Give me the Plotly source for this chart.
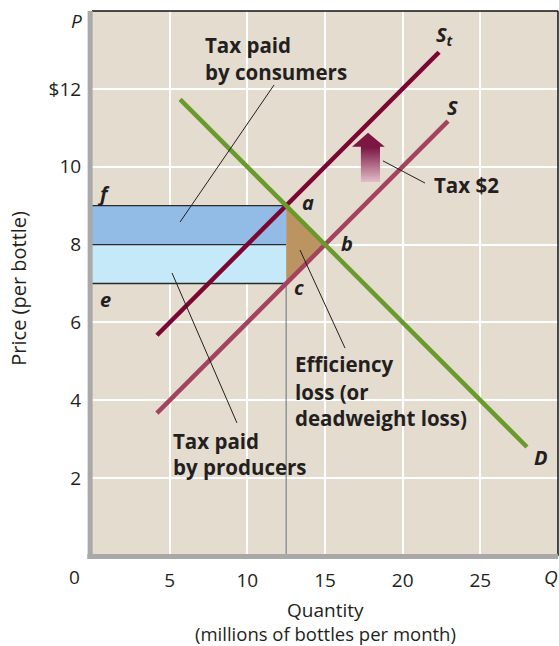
import plotly.graph_objects as go

# --- market data: bottled water with a $2 per-bottle tax ---
demand_q = [5.67, 28.0]
demand_p = [11.73, 2.8]
supply_q = [4.18, 22.92]
supply_p = [3.67, 11.17]
taxed_supply_q = [4.18, 22.34]
taxed_supply_p = [5.67, 12.94]

tax = 2
q_taxed = 12.5          # quantity traded with the tax
p_consumer = 9          # price paid by consumers (point a)
p_producer = 7          # price kept by producers (point c)
q_equilibrium = 15      # no-tax equilibrium (point b)
p_equilibrium = 8

x_ticks = [5, 10, 15, 20, 25]
x_tick_labels = ["5", "10", "15", "20", "25"]
y_ticks = [2, 4, 6, 8, 10, 12]
y_tick_labels = ["2", "4", "6", "8", "10", "$12"]

BG = "#e5dcd0"
INK = "#231f20"
FONT = "Open Sans"

fig = go.Figure()

# consumer share of the tax (f band)
fig.add_trace(go.Scatter(
    x=[0, q_taxed, q_taxed, 0, 0],
    y=[p_equilibrium, p_equilibrium, p_consumer, p_consumer, p_equilibrium],
    fill="toself", fillcolor="#92bce5", mode="lines",
    line=dict(width=0), hoverinfo="skip", showlegend=False))
# producer share of the tax (e band)
fig.add_trace(go.Scatter(
    x=[0, q_taxed, q_taxed, 0, 0],
    y=[p_producer, p_producer, p_equilibrium, p_equilibrium, p_producer],
    fill="toself", fillcolor="#c6e9f9", mode="lines",
    line=dict(width=0), hoverinfo="skip", showlegend=False))
# band edges
for p in (p_consumer, p_equilibrium, p_producer):
    fig.add_trace(go.Scatter(
        x=[0, q_taxed], y=[p, p], mode="lines",
        line=dict(color="#2a2a2a", width=1.3), hoverinfo="skip", showlegend=False))

# deadweight-loss triangle a-b-c
fig.add_trace(go.Scatter(
    x=[q_taxed, q_equilibrium, q_taxed, q_taxed],
    y=[p_consumer, p_equilibrium, p_producer, p_consumer],
    fill="toself", fillcolor="#bb9462", mode="lines",
    line=dict(width=0), hoverinfo="skip", showlegend=False))

# drop line from c to the quantity axis
fig.add_trace(go.Scatter(
    x=[q_taxed, q_taxed], y=[0, p_producer], mode="lines",
    line=dict(color="#7d848c", width=1.2), hoverinfo="skip", showlegend=False))

# supply, taxed supply, demand
fig.add_trace(go.Scatter(x=supply_q, y=supply_p, mode="lines",
                         line=dict(color="#a3435e", width=4.5),
                         hoverinfo="skip", showlegend=False))
fig.add_trace(go.Scatter(x=taxed_supply_q, y=taxed_supply_p, mode="lines",
                         line=dict(color="#7a0631", width=4.5),
                         hoverinfo="skip", showlegend=False))
fig.add_trace(go.Scatter(x=demand_q, y=demand_p, mode="lines",
                         line=dict(color="#6b9a2c", width=4.5),
                         hoverinfo="skip", showlegend=False))

# upward arrow showing the $2 shift of supply
ax_l, ax_r = 17.31, 18.54
ah_l, ah_r = 16.74, 18.85
ax_mid = 17.77
a_bot, a_neck, a_tip = 9.61, 10.51, 10.87
fig.add_trace(go.Scatter(
    x=[ax_l, ax_r, ax_r, ah_r, ax_mid, ah_l, ax_l, ax_l],
    y=[a_bot, a_bot, a_neck, a_neck, a_tip, a_neck, a_neck, a_bot],
    mode="lines", fill="toself", line=dict(width=0),
    fillgradient=dict(type="vertical",
                      colorscale=[[0, "#e3bcc8"], [0.7, "#7b1742"], [1, "#7b1742"]]),
    hoverinfo="skip", showlegend=False))

# leader lines
leaders = [
    ((11.72, 12.10), (5.67, 8.58)),
    ((5.15, 7.27), (9.33, 3.42)),
    ((13.39, 7.86), (16.29, 5.34)),
    ((18.73, 10.15), (21.44, 9.58)),
]
shapes = []
for (x0, y0), (x1, y1) in leaders:
    shapes.append(dict(type="line", xref="x", yref="y", x0=x0, y0=y0, x1=x1, y1=y1,
                       line=dict(color=INK, width=1), layer="above"))

# frame: thin black top/right, heavy grey axes left/bottom
shapes += [
    dict(type="line", xref="paper", yref="paper", x0=0, x1=1, y0=1, y1=1,
         line=dict(color="#111111", width=1.5)),
    dict(type="line", xref="paper", yref="paper", x0=1, x1=1, y0=0, y1=1,
         line=dict(color="#111111", width=1.5)),
    dict(type="line", xref="paper", yref="paper", x0=-0.004, x1=-0.004, y0=-0.005, y1=1,
         line=dict(color="#a9a9a9", width=5)),
    dict(type="line", xref="paper", yref="paper", x0=-0.01, x1=1, y0=-0.001, y1=-0.001,
         line=dict(color="#a9a9a9", width=5)),
]

bold = dict(family=FONT, size=20.5, color=INK, weight="bold")
annotations = []


def text(x, y, s, font=bold, xanchor="left", xref="x", yref="y", **kw):
    annotations.append(dict(x=x, y=y, text=s, xref=xref, yref=yref, showarrow=False,
                            xanchor=xanchor, yanchor="middle", font=font, **kw))


text(7.15, 13.13, "Tax paid")
text(7.15, 12.43, "by consumers")
text(5.09, 2.95, "Tax paid")
text(5.09, 2.29, "by producers")
text(12.94, 4.93, "Efficiency")
text(12.94, 4.21, "loss (or")
text(12.94, 3.54, "deadweight loss)")
text(21.89, 9.53, "Tax $2")

ital = dict(family=FONT, size=20, color=INK, weight="bold", style="italic")
text(13.91, 9.09, "a", ital, "center")
text(16.42, 8.04, "b", ital, "center")
text(13.33, 6.91, "c", ital, "center")
text(0.71, 9.32, "f", ital, "center")
text(0.84, 6.58, "e", ital, "center")
text(22.7, 13.36, "S<sub>t</sub>", ital, "center")
text(23.24, 11.53, "S", ital, "center")
text(28.9, 2.54, "D", ital, "center")

axis_font = dict(family=FONT, size=19, color=INK)
text(-0.034, 0.982, "P", dict(family=FONT, size=19, color=INK, style="italic"),
     "center", xref="paper", yref="paper")
text(0.984, -0.0385, "Q", dict(family=FONT, size=19, color=INK, style="italic"),
     "center", xref="paper", yref="paper")
text(-0.0365, -0.0385, "0", axis_font, "center", xref="paper", yref="paper")
text(0.5, -0.099, "Quantity", axis_font, "center", xref="paper", yref="paper")
text(0.5, -0.142, "(millions of bottles per month)",
     dict(family=FONT, size=18.5, color=INK), "center", xref="paper", yref="paper")
text(-0.157, 0.492, "Price (per bottle)", dict(family=FONT, size=20, color=INK),
     "center", xref="paper", yref="paper", textangle=-90)

fig.update_layout(
    width=559, height=646,
    margin=dict(l=92, r=1, t=11, b=90),
    paper_bgcolor="white", plot_bgcolor=BG,
    shapes=shapes, annotations=annotations,
    xaxis=dict(range=[0, 30], tickvals=x_ticks, ticktext=x_tick_labels,
               showgrid=True, gridcolor="white", gridwidth=1.6,
               zeroline=False, showline=False,
               ticks="outside", ticklen=7, tickcolor="rgba(0,0,0,0)",
               tickfont=axis_font, fixedrange=True),
    yaxis=dict(range=[0, 14], tickvals=y_ticks, ticktext=y_tick_labels,
               showgrid=True, gridcolor="white", gridwidth=1.6,
               zeroline=False, showline=False,
               ticks="outside", ticklen=6, tickcolor="rgba(0,0,0,0)",
               tickfont=axis_font, fixedrange=True),
)

fig.write_html("out.html")
